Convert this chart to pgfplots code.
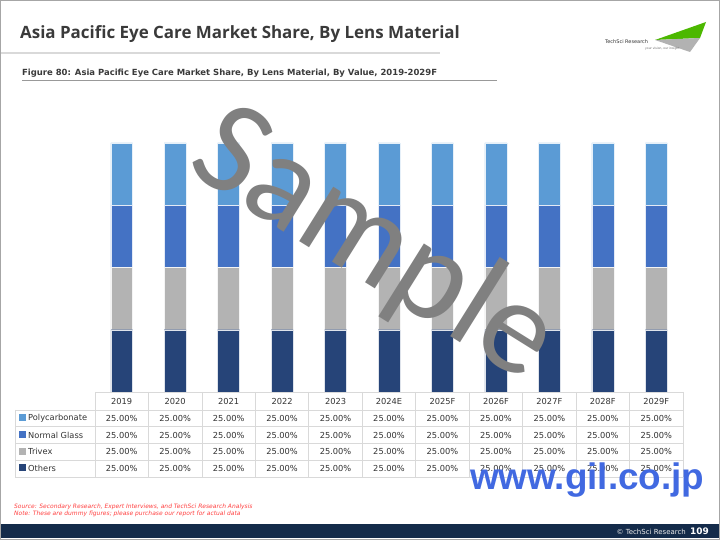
\documentclass[border=0pt]{standalone}
\usepackage{pgfplots}
\pgfplotsset{compat=1.18}
\usepackage{fontspec}
\setmainfont{DejaVu Sans}
\newfontfamily\titlefont{Open Sans}
\newfontfamily\arialfont{Liberation Sans}
\newfontfamily\calfont{Carlito}
\definecolor{cPoly}{HTML}{5B9BD5}
\definecolor{cGlass}{HTML}{4472C4}
\definecolor{cTrivex}{HTML}{B3B3B3}
\definecolor{cOthers}{HTML}{264478}
\definecolor{cTitle}{HTML}{3A3A3A}
\definecolor{cGrid}{HTML}{D9D9D9}
\definecolor{cFooter}{HTML}{142B4A}
\definecolor{cSource}{HTML}{FF4040}
\definecolor{cGil}{HTML}{4169E1}
\definecolor{cWater}{HTML}{808080}
\begin{document}
\begin{tikzpicture}[x=1bp,y=1bp]
\useasboundingbox (0,0) rectangle (720,540);
\fill[white] (0,0) rectangle (720,540);
% frame
\draw[gray!70,line width=1bp] (0.5,0.5) rectangle (719.5,539.5);
% title
\node[anchor=base west,inner sep=0,text=cTitle,font=\titlefont\bfseries\fontsize{17}{20}\selectfont] at (20,540-39) {Asia Pacific Eye Care Market Share, By Lens Material};
\draw[cGrid,line width=1.5bp] (1,540-53) -- (440,540-53);
% logo
\fill[green!60!black!70!yellow] (655,540-40) -- (706,540-22) -- (700,540-38) -- cycle;
\fill[gray!60] (655,540-40) -- (700,540-38) -- (690,540-52) -- cycle;
\node[anchor=base west,inner sep=0,font=\fontsize{5}{6}\selectfont,text=black!80] at (605,540-44) {TechSci Research};
\node[anchor=base west,inner sep=0,font=\fontsize{3}{4}\selectfont,text=black!60] at (645,540-50) {your vision, our insight};
% caption
\node[anchor=base west,inner sep=0,text=cTitle,font=\bfseries\fontsize{8.5}{10}\selectfont] at (22,540-76) {Figure 80: Asia Pacific Eye Care Market Share, By Lens Material, By Value, 2019-2029F};
\draw[gray!80,line width=0.8bp] (22,540-80.5) -- (497,540-80.5);
% chart
\begin{axis}[
  at={(95bp,148bp)}, anchor=south west,
  scale only axis, width=588bp, height=249bp,
  xmin=-0.5, xmax=10.5, ymin=0, ymax=100,
  hide axis,
  ybar stacked, bar width=0.41,
]
\addplot[fill=cOthers,draw=white!85!cOthers,line width=0.4bp] coordinates {(0,25) (1,25) (2,25) (3,25) (4,25) (5,25) (6,25) (7,25) (8,25) (9,25) (10,25)};
\addplot[fill=cTrivex,draw=white!85!cTrivex,line width=0.4bp] coordinates {(0,25) (1,25) (2,25) (3,25) (4,25) (5,25) (6,25) (7,25) (8,25) (9,25) (10,25)};
\addplot[fill=cGlass,draw=white!85!cGlass,line width=0.4bp] coordinates {(0,25) (1,25) (2,25) (3,25) (4,25) (5,25) (6,25) (7,25) (8,25) (9,25) (10,25)};
\addplot[fill=cPoly,draw=white!85!cPoly,line width=0.4bp] coordinates {(0,25) (1,25) (2,25) (3,25) (4,25) (5,25) (6,25) (7,25) (8,25) (9,25) (10,25)};
\end{axis}
% table grid
\draw[cGrid,line width=0.8bp] (95,148) -- (683,148);
\foreach \yy in {130,114,97,80,63} \draw[cGrid,line width=0.8bp] (15,\yy) -- (683,\yy);
\draw[cGrid,line width=0.8bp] (15,130) -- (15,63);
\foreach \i in {0,...,11} \draw[cGrid,line width=0.8bp] (95+53.4545*\i,148) -- (95+53.4545*\i,63);
% header
\foreach \lab [count=\i from 0] in {2019,2020,2021,2022,2023,2024E,2025F,2026F,2027F,2028F,2029F}
  \node[font=\fontsize{8.3}{10}\selectfont,text=black!80,inner sep=0] at (95+53.4545*\i+26.73,139) {\lab};
% rows
\foreach \lab/\col/\yy in {Polycarbonate/cPoly/122,Normal Glass/cGlass/105,Trivex/cTrivex/88.5,Others/cOthers/72}{
  \fill[\col] (19,\yy-3.5) rectangle (26,\yy+3.5);
  \node[anchor=west,font=\fontsize{8.3}{10}\selectfont,text=black!80,inner sep=0] at (28,\yy) {\lab};
  \foreach \i in {0,...,10}
    \node[font=\fontsize{8.3}{10}\selectfont,text=black!80,inner sep=0] at (95+53.4545*\i+26.73,\yy) {25.00\%};
}
% watermarks
\node[rotate=-32,text=cWater,font=\calfont\fontsize{135}{135}\selectfont,inner sep=0] at (374,294) {Sample};
\node[anchor=base west,inner sep=0,text=cGil,font=\arialfont\bfseries\fontsize{37}{37}\selectfont] at (470,540-490) {www.gil.co.jp};
% source
\node[anchor=base west,inner sep=0,text=cSource,font=\itshape\fontsize{6}{7}\selectfont] at (14,540-508.5) {Source: Secondary Research, Expert Interviews, and TechSci Research Analysis};
\node[anchor=base west,inner sep=0,text=cSource,font=\itshape\fontsize{6}{7}\selectfont] at (14,540-515.5) {Note: These are dummy figures; please purchase our report for actual data};
% footer
\fill[cFooter] (1,2) rectangle (719,540-524);
\node[anchor=base east,inner sep=0,text=white!85!gray,font=\fontsize{7}{8}\selectfont] at (686,540-535) {\textcopyright{} TechSci Research};
\node[anchor=base east,inner sep=0,text=white,font=\bfseries\fontsize{9}{10}\selectfont] at (709,540-535) {109};
\end{tikzpicture}
\end{document}
